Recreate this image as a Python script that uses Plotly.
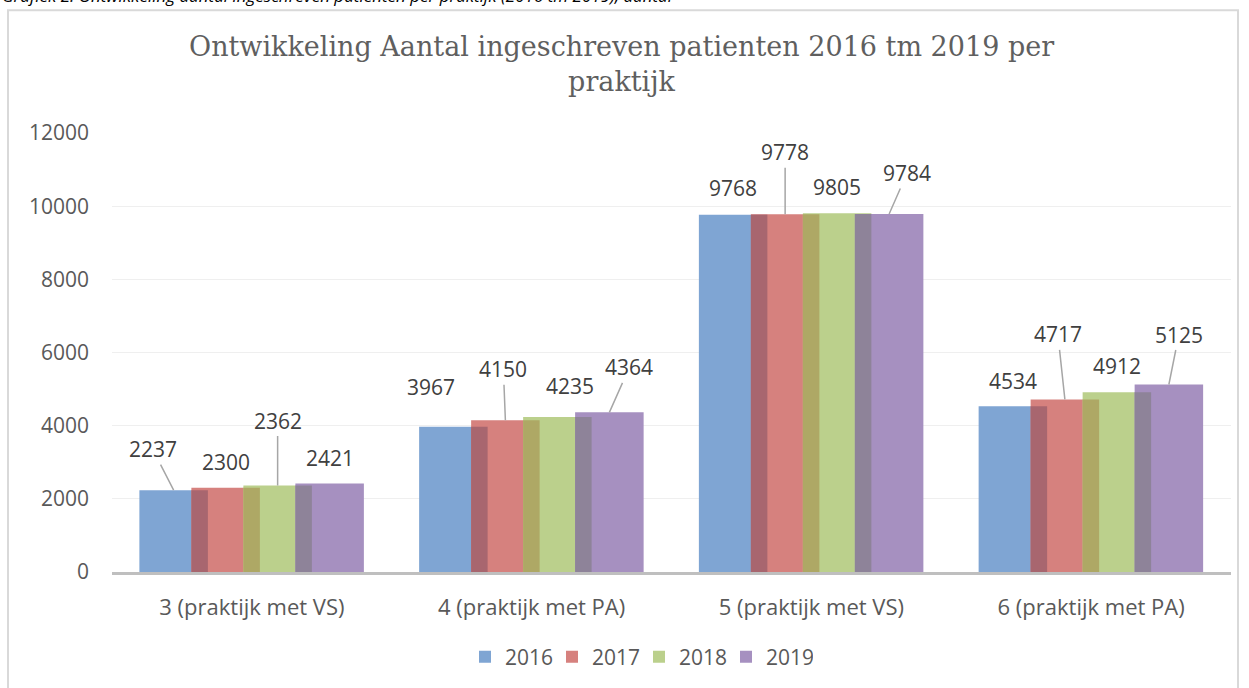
import plotly.graph_objects as go

# data
praktijken = ["3 (praktijk met VS)", "4 (praktijk met PA)",
              "5 (praktijk met VS)", "6 (praktijk met PA)"]
jaren = ["2016", "2017", "2018", "2019"]
aantal_2016 = [2237, 3967, 9768, 4534]
aantal_2017 = [2300, 4150, 9778, 4717]
aantal_2018 = [2362, 4235, 9805, 4912]
aantal_2019 = [2421, 4364, 9784, 5125]
y_ticks = [0, 2000, 4000, 6000, 8000, 10000, 12000]

series = [aantal_2016, aantal_2017, aantal_2018, aantal_2019]
colors = ["#7FA5D3", "#D6817E", "#BBD08C", "#A690C0"]
overlap_colors = ["#A8666F", "#AEA865", "#8E8399"]

# geometry (pixels) of the plot area
PLOT_L, PLOT_R, PLOT_T, PLOT_B = 112, 1231, 133, 573
CAT_PX = (PLOT_R - PLOT_L) / 4.0
BAR_PX = 68.5
STEP_PX = 52.0
FIRST_PX = -112.5

bar_w = BAR_PX / CAT_PX
step = STEP_PX / CAT_PX
first = FIRST_PX / CAT_PX
overlap_w = (BAR_PX - STEP_PX) / CAT_PX

# label offsets (px, dx / dy from bar top center) and whether a leader is drawn
label_pos = [
    [(-21, -41, True), (0, -26, False), (0, -65, True), (0, -25, False)],
    [(-22, -40, False), (-2, -51, True), (13, -31, False), (20, -45, True)],
    [(0, -27, False), (0, -62, True), (0, -26, False), (18, -41, True)],
    [(0, -25, False), (-7, -65, True), (0, -26, False), (10, -50, True)],
]


def px_x(p):
    return (p - PLOT_L) / (PLOT_R - PLOT_L)


def px_y(p):
    return (PLOT_B - p) / (PLOT_B - PLOT_T)


x_pos = list(range(len(praktijken)))
fig = go.Figure()

for k, (jaar, vals) in enumerate(zip(jaren, series)):
    fig.add_trace(go.Bar(
        x=x_pos, y=vals, name=jaar,
        offset=first + k * step, width=bar_w,
        marker=dict(color=colors[k], line=dict(width=0)),
    ))

# darker strips where a bar overlaps the previous one
for k in range(1, 4):
    heights = [min(a, b) for a, b in zip(series[k - 1], series[k])]
    fig.add_trace(go.Bar(
        x=x_pos, y=heights, showlegend=False, hoverinfo="skip",
        offset=first + k * step, width=overlap_w,
        marker=dict(color=overlap_colors[k - 1], line=dict(width=0)),
    ))

annotations = []
for i in x_pos:
    for k, vals in enumerate(series):
        dx, dy, leader = label_pos[i][k]
        xc = i + first + k * step + bar_w / 2
        common = dict(x=xc, y=vals[i], text=str(vals[i]),
                      font=dict(family="Open Sans", size=21, color="#404040"))
        if leader:
            annotations.append(dict(common, showarrow=True, arrowhead=0,
                                    arrowwidth=1.5, arrowcolor="#A6A6A6",
                                    ax=dx, ay=dy, standoff=0, startstandoff=0))
        else:
            annotations.append(dict(common, showarrow=False,
                                    xshift=dx, yshift=-dy))

annotations.append(dict(
    xref="paper", yref="paper", x=px_x(621), y=px_y(64),
    xanchor="center", yanchor="middle", showarrow=False,
    text="Ontwikkeling Aantal ingeschreven patienten 2016 tm 2019 per<br>praktijk",
    font=dict(family="DejaVu Serif", size=27, color="#5F5F5F"),
))
annotations.append(dict(
    xref="paper", yref="paper", x=px_x(0), y=px_y(9),
    xanchor="left", yanchor="bottom", showarrow=False,
    text="<i>Grafiek 2: Ontwikkeling aantal ingeschreven patienten per praktijk (2016 tm 2019), aantal</i>",
    font=dict(family="Open Sans", size=17, color="#000000"),
))

fig.update_layout(
    width=1249, height=688,
    margin=dict(l=PLOT_L, r=1249 - PLOT_R, t=PLOT_T, b=688 - PLOT_B, pad=0),
    paper_bgcolor="white", plot_bgcolor="white",
    barmode="overlay",
    font=dict(family="Open Sans", size=21, color="#595959"),
    annotations=annotations,
    shapes=[dict(type="rect", xref="paper", yref="paper",
                 x0=px_x(8), x1=px_x(1238), y0=px_y(720), y1=px_y(10),
                 line=dict(color="#D9D9D9", width=2), layer="below")],
    legend=dict(orientation="h", x=px_x(639), y=px_y(657),
                xanchor="center", yanchor="middle", entrywidth=42,
                font=dict(size=21, color="#595959")),
    showlegend=True,
)
fig.update_xaxes(range=[-0.5, 3.5], tickvals=x_pos, ticktext=praktijken,
                 tickfont=dict(size=22),
                 showgrid=False, zeroline=False,
                 showline=True, linecolor="#BFBFBF", linewidth=3,
                 ticks="", ticklabelstandoff=14)
fig.update_yaxes(range=[0, 12000], tickvals=y_ticks, tickformat="d",
                 showgrid=True, gridcolor="#EFEFEF", gridwidth=1,
                 zeroline=False, showline=False, ticks="",
                 ticklabelstandoff=22)

# the page body has a default 8px margin; drop it so the figure sits at 0,0
fig.write_html("out.html", config={"displayModeBar": False},
               post_script="document.body.style.margin='0px';")
